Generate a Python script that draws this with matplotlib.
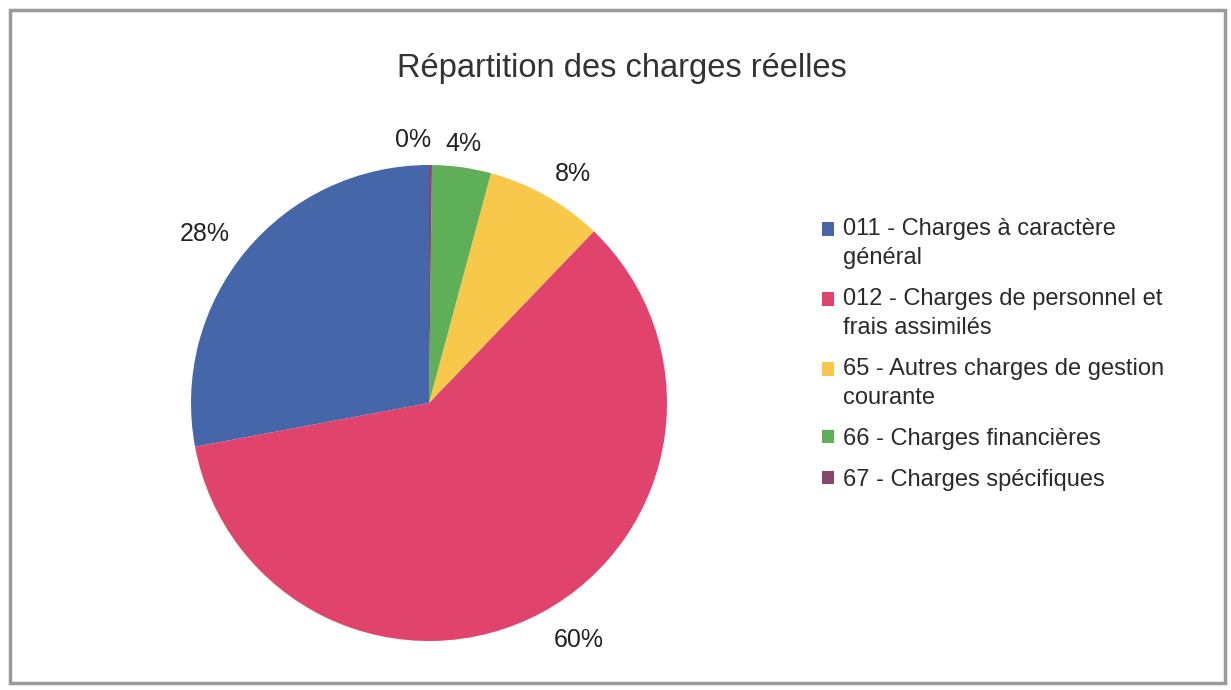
import matplotlib
matplotlib.use("Agg")
import matplotlib.pyplot as plt
from matplotlib.patches import Rectangle
from matplotlib.legend_handler import HandlerPatch

plt.rcParams['font.family'] = ['Liberation Sans', 'DejaVu Sans']

categories = ["011 - Charges à caractère\ngénéral",
              "012 - Charges de personnel et\nfrais assimilés",
              "65 - Autres charges de gestion\ncourante",
              "66 - Charges financières",
              "67 - Charges spécifiques"]
values = [28.0, 60.0, 8.0, 4.0, 0.2]
colors = ["#4666AA", "#E0446C", "#F7C84A", "#5FAF58", "#86466E"]
title = "Répartition des charges réelles"

W, H = 1231, 690
fig = plt.figure(figsize=(W / 100, H / 100), dpi=100)
fig.patch.set_facecolor("white")

# chart border
fig.add_artist(Rectangle((10 / W, 7 / H), 1 - 16 / W, 1 - 17 / H, transform=fig.transFigure,
                         fill=False, edgecolor="#9a9a9a", linewidth=2.5))

cx, cy, r = 429, 403, 238
ax = fig.add_axes([(cx - r) / W, (H - cy - r) / H, 2 * r / W, 2 * r / H])
wedges, _, autotexts = ax.pie(values, colors=colors, startangle=90, counterclock=True,
                              autopct='%.0f%%', pctdistance=1.14, radius=1,
                              textprops=dict(fontsize=18, color="#222222"),
                              wedgeprops=dict(linewidth=0))
ax.set_xlim(-1, 1)
ax.set_ylim(-1, 1)
ax.set_aspect('equal')
ax.axis('off')

# best-fit style nudges of the percentage labels (pixels: right, down)
nudges = [(-15, 4), (21, -2), (10, 7), (-3, 0), (-2, 1)]
for t, (dx, dy) in zip(autotexts, nudges):
    x0, y0 = t.get_position()
    t.set_position((x0 + dx / r, y0 - dy / r))
# tiny-slice label to avoid overlap
x0, y0 = autotexts[4].get_position()
autotexts[4].set_position((x0 - 0.065, y0 - 0.03))
x1, y1 = autotexts[3].get_position()
autotexts[3].set_position((x1, y1 - 0.04))

fig.text(0.505, 1 - 68 / H, title, ha='center', va='center', fontsize=23.5, color="#333333")

LS = 1.42


class FirstLineHandler(HandlerPatch):
    def create_artists(self, legend, orig_handle, xdescent, ydescent, width, height,
                       fontsize, trans):
        nlines = orig_handle.get_label().count("\n") + 1
        off = (nlines - 1) * fontsize * 1.25 / 2
        p = Rectangle((-xdescent, -ydescent + off), width, height,
                      facecolor=orig_handle.get_facecolor(), edgecolor='none')
        p.set_transform(trans)
        return [p]


handles = [Rectangle((0, 0), 1, 1, facecolor=c, label=l) for c, l in zip(colors, categories)]
leg = fig.legend(handles=handles, labels=categories, loc='upper left',
                 bbox_to_anchor=(822 / W, 1 - 218 / H), frameon=False, fontsize=17,
                 handlelength=0.5, handleheight=0.5, handletextpad=0.4,
                 labelspacing=0.8, borderpad=0, borderaxespad=0,
                 handler_map={Rectangle: FirstLineHandler()})
for t in leg.get_texts():
    t.set_color("#2a2a2a")
    t.set_linespacing(LS)

fig.savefig("out.png", dpi=100)
